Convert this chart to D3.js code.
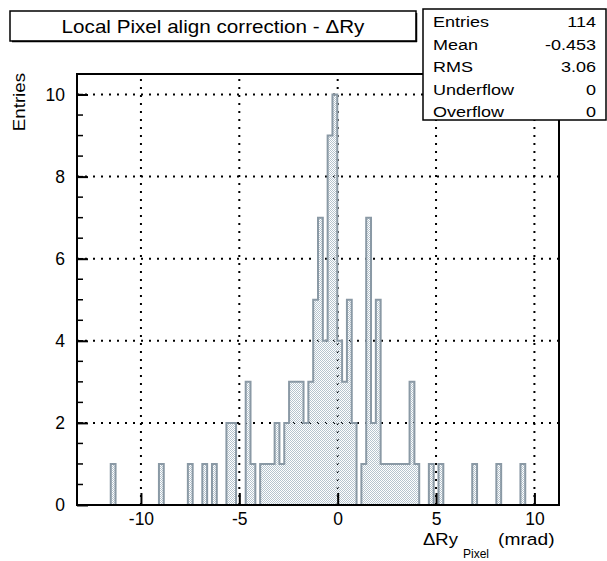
<!DOCTYPE html>
<html>
<head>
<meta charset="utf-8">
<script src="https://cdn.jsdelivr.net/npm/d3@7"></script>
<style>
  html, body { margin: 0; padding: 0; background: #fff; }
  svg { display: block; font-family: "Liberation Sans", Arial, Helvetica, sans-serif; }
</style>
</head>
<body>
<svg id="chart" width="607" height="561"></svg>
<script>
// ---- data ----
const binLow = -13.25;
const binHigh = 11.25;
const counts = [
  0,0,0,0,0,0,0,1,0,0,
  0,0,0,0,0,0,0,1,0,0,
  0,0,0,1,0,0,1,0,1,0,
  0,2,2,0,0,3,1,0,1,1,
  1,2,1,2,3,3,3,2,3,5,
  7,4,9,10,4,3,5,2,0,1,
  7,2,5,1,1,1,1,1,1,3,
  1,0,0,1,0,1,0,0,0,0,
  0,0,1,0,0,0,0,1,0,0,
  0,0,1,0,0,0,0,0,0,0
];
const xTicks = [-10, -5, 0, 5, 10];
const yTicks = [0, 2, 4, 6, 8, 10];
const yMax = 10.5;
const titleText = "Local Pixel align correction - \u0394Ry";
const statLabels = ["Entries", "Mean", "RMS", "Underflow", "Overflow"];
const statValues = ["114", "-0.453", "3.06", "0", "0"];

// ---- layout ----
const L = 77, R = 559, T = 74, B = 505;
const svg = d3.select("#chart");
const x = d3.scaleLinear().domain([binLow, binHigh]).range([L, R]);
const y = d3.scaleLinear().domain([0, yMax]).range([B, T]);
const nb = counts.length;
const bw = (binHigh - binLow) / nb;

// helper: horizontally stretched text
function stext(parent, tx, ty, sx, size, anchor, str) {
  const g = parent.append("g").attr("transform", `translate(${tx},${ty}) scale(${sx},1)`);
  return g.append("text").attr("x", 0).attr("y", 0).attr("font-size", size)
    .attr("text-anchor", anchor).attr("fill", "#000").text(str);
}

// pattern fill
const defs = svg.append("defs");
const pat = defs.append("pattern").attr("id", "dots")
  .attr("patternUnits", "userSpaceOnUse").attr("width", 2).attr("height", 2);
pat.append("rect").attr("x", 0).attr("y", 0).attr("width", 1).attr("height", 1).attr("fill", "#b6c4ce");
pat.append("rect").attr("x", 1).attr("y", 1).attr("width", 1).attr("height", 1).attr("fill", "#b6c4ce");

// grid
const grid = svg.append("g").attr("stroke", "#000").attr("stroke-width", 2)
  .attr("stroke-dasharray", "2,6");
grid.selectAll("line.gx").data(xTicks).join("line")
  .attr("x1", d => x(d)).attr("x2", d => x(d)).attr("y1", B).attr("y2", T);
grid.selectAll("line.gy").data(yTicks.filter(d => d > 0)).join("line")
  .attr("x1", L).attr("x2", R).attr("y1", d => y(d)).attr("y2", d => y(d));

// histogram outline
const pts = [[binLow, 0]];
counts.forEach((c, i) => {
  pts.push([binLow + i * bw, c]);
  pts.push([binLow + (i + 1) * bw, c]);
});
pts.push([binHigh, 0]);
const line = d3.line().x(d => x(d[0])).y(d => y(d[1]));
svg.append("path").attr("d", line(pts) + "Z").attr("fill", "url(#dots)").attr("stroke", "none");
svg.append("path").attr("d", line(pts)).attr("fill", "none")
  .attr("stroke", "#8a99a5").attr("stroke-width", 2).attr("stroke-linejoin", "miter");

// axes via d3
const xAxis = d3.axisBottom(x).tickValues(xTicks).tickSize(-12).tickSizeOuter(0)
  .tickFormat(d => String(d)).tickPadding(20);
const gx = svg.append("g").attr("transform", `translate(0,${B})`).call(xAxis);
gx.select(".domain").remove();
gx.selectAll(".tick line").attr("stroke", "#000").attr("stroke-width", 2);
gx.selectAll(".tick text").attr("font-size", 17.5).attr("fill", "#000")
  .attr("font-family", "Liberation Sans, Arial, sans-serif").attr("y", 20).attr("dy", 0);

const yMinor = d3.range(0, yMax + 0.001, 0.5);
svg.append("g").selectAll("line").data(yMinor).join("line")
  .attr("x1", L).attr("x2", L + 6).attr("y1", d => y(d)).attr("y2", d => y(d))
  .attr("stroke", "#000").attr("stroke-width", 1.5);
const yAxis = d3.axisLeft(y).tickValues(yTicks).tickSize(-11).tickSizeOuter(0)
  .tickFormat(d => String(d)).tickPadding(12);
const gy = svg.append("g").attr("transform", `translate(${L},0)`).call(yAxis);
gy.select(".domain").remove();
gy.selectAll(".tick line").attr("stroke", "#000").attr("stroke-width", 2);
gy.selectAll(".tick text").attr("font-size", 17.5).attr("fill", "#000")
  .attr("font-family", "Liberation Sans, Arial, sans-serif");

// frame
svg.append("rect").attr("x", L).attr("y", T).attr("width", R - L).attr("height", B - T)
  .attr("fill", "none").attr("stroke", "#000").attr("stroke-width", 2);

// axis titles
svg.append("g").attr("transform", `translate(25,${T - 1}) rotate(-90) scale(1.1,1)`)
  .append("text").attr("text-anchor", "end").attr("font-size", 17).text("Entries");
stext(svg, 423, 545, 1.12, 16.5, "start", "\u0394Ry");
svg.append("text").attr("x", 463).attr("y", 558).attr("font-size", 12).text("Pixel");
stext(svg, 498, 545, 1.13, 17, "start", "(mrad)");

// title box
svg.append("rect").attr("x", 10).attr("y", 11).attr("width", 406).attr("height", 30)
  .attr("fill", "#fff").attr("stroke", "#000").attr("stroke-width", 1.5);
svg.append("line").attr("x1", 12).attr("x2", 417).attr("y1", 41.5).attr("y2", 41.5)
  .attr("stroke", "#000").attr("stroke-width", 1.5);
svg.append("line").attr("x1", 416.5).attr("x2", 416.5).attr("y1", 13).attr("y2", 42)
  .attr("stroke", "#000").attr("stroke-width", 1.5);
stext(svg, 213, 33, 1.18, 17.5, "middle", titleText);

// stats box
const sx = 423, sy = 9, sw = 183, sh = 111;
svg.append("rect").attr("x", sx).attr("y", sy).attr("width", sw).attr("height", sh)
  .attr("fill", "#fff").attr("stroke", "#000").attr("stroke-width", 1.5);
const rowY = d3.scaleLinear().domain([0, statLabels.length - 1]).range([27, 117]);
statLabels.forEach((d, i) => stext(svg, 433, rowY(i), 1.2, 15, "start", d));
statValues.forEach((d, i) => stext(svg, 596, rowY(i), 1.2, 15, "end", d));
</script>
</body>
</html>
